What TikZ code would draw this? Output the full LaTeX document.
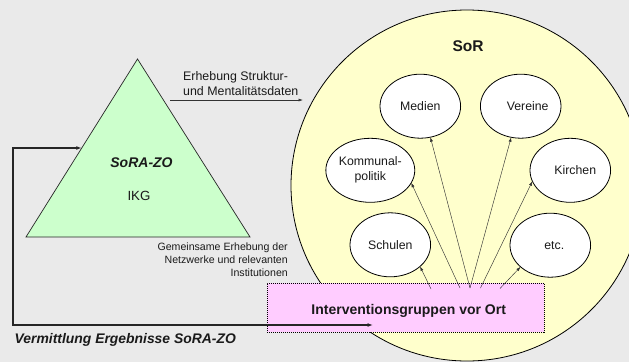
\documentclass[tikz,border=0pt]{standalone}
\usepackage{fontspec}
\setmainfont{Liberation Sans}
\usetikzlibrary{shapes.geometric,arrows.meta,calc}
\definecolor{bg}{HTML}{EAEAEA}
\definecolor{sorfill}{HTML}{FFFFCC}
\definecolor{trifill}{HTML}{CCFFCC}
\definecolor{boxfill}{HTML}{FFCCFF}
\definecolor{ink}{HTML}{1A1A1A}
\begin{document}
\begin{tikzpicture}[x=1pt,y=-1pt,
  inst/.style={ellipse, draw=black, fill=white, line width=0.8pt,
    minimum width=80.6pt, minimum height=64pt, inner sep=0pt, outer sep=0pt,
    align=center, text=ink, font=\fontsize{12.3}{15}\selectfont},
  link/.style={-{Latex[length=4.5pt,width=3pt]}, line width=0.45pt, draw=black!80},
  fbline/.style={{Latex[length=5.5pt,width=4pt]}-{Latex[length=5.5pt,width=4pt]}, line width=1.3pt, draw=black!85},
  label/.style={inner sep=0pt, text=ink},
]
\useasboundingbox (0,0) rectangle (629,362);
\fill[bg] (0,0) rectangle (629,362);
\clip (0,0) rectangle (629,362);

% big SoR ellipse
\node[ellipse, draw=black, fill=sorfill, line width=0.8pt, minimum width=352pt,
      minimum height=351pt, inner sep=0pt, outer sep=0pt] (sor) at (467,185.5) {};
\node[label, font=\bfseries\fontsize{15.5}{18}\selectfont] (sortitle) at (468,46) {SoR};

% triangle
\coordinate (tl) at (26,237);
\coordinate (tr) at (250,237);
\coordinate (ta) at (137.5,59);
\draw[fill=trifill, line width=0.7pt, draw=black!85] (tl) -- (ta) -- (tr) -- cycle;
\node[label, font=\bfseries\itshape\fontsize{14}{16}\selectfont] (sorazo) at (141.5,163) {SoRA-ZO};
\node[label, font=\fontsize{13.3}{16}\selectfont] (ikg) at (139,196) {IKG};

% Erhebung arrow
\coordinate (ea) at (170,100);
\coordinate (eb) at (303,100);
\draw[-{Latex[length=4.5pt,width=3pt]}, line width=0.6pt, draw=black!80] (ea) -- (eb);
\node[label, anchor=west, align=left, font=\fontsize{12.4}{14.7}\selectfont] (erh) at (183,83.3)
  {Erhebung Struktur-\\und Mentalitätsdaten};

\node[label, anchor=east, align=right, font=\fontsize{10.6}{12.8}\selectfont] (gem) at (288,259.8)
  {Gemeinsame Erhebung der\\Netzwerke und relevanten\\Institutionen};

% institutions
\node[inst] (medien) at (420.3,106.2) {Medien};
\node[inst] (vereine) at (520.7,106.2) {\hspace*{14pt}Vereine};
\node[inst] (kommunal) at (370.3,170.3) {Kommunal-\\politik};
\node[inst] (kirchen) at (570.3,170.3) {\hspace*{10pt}Kirchen};
\node[inst] (schulen) at (390.3,244.8) {Schulen};
\node[inst] (etc) at (550.3,245.2) {\hspace*{8pt}etc.};

% Interventionsgruppen box
\node[draw=black, line width=0.6pt, dash pattern=on 1pt off 1pt, fill=boxfill,
      minimum width=277pt, minimum height=49pt, inner sep=0pt, outer sep=0pt,
      anchor=north west] (ig) at (267,283) {};
\node[label, font=\bfseries\fontsize{14}{16}\selectfont] (igtext) at (408.7,310.7)
  {Interventionsgruppen vor Ort};

% arrows from the box to the institutions
\coordinate (s1) at (431,289);
\coordinate (s2) at (460,288);
\coordinate (s3) at (470,288);
\coordinate (s4) at (480.5,288);
\coordinate (s5) at (500,288.5);
\draw[link] (s1) -- (schulen.-36.6);
\draw[link] (s2) -- (kommunal.-17.3);
\draw[link] (s3) -- (medien.-72.4);
\draw[link] (s3) -- (vereine.-107.8);
\draw[link] (s4) -- (kirchen.196.5);
\draw[link] (s5) -- (etc.216);

% feedback loop
\coordinate (fbend) at (373,325);
\coordinate (fbcorner) at (13,325);
\coordinate (tmid) at ($(tl)!0.5!(ta)$);
\draw[fbline] (fbend) -- (fbcorner) |- (tmid);
\node[label, anchor=west, font=\bfseries\itshape\fontsize{13.9}{16}\selectfont] (verm) at (14.5,340)
  {Vermittlung Ergebnisse SoRA-ZO};
\end{tikzpicture}
\end{document}
